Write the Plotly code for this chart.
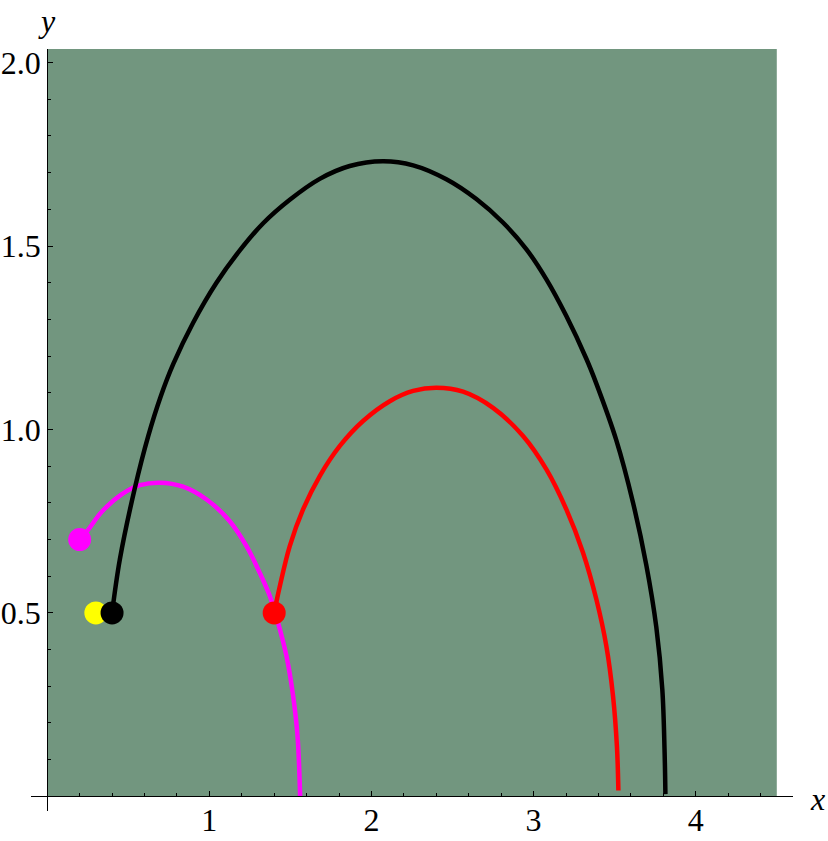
import plotly.graph_objects as go

# ---- data ----
black_x = [0.400, 0.448, 0.541, 0.623, 0.700, 0.777, 0.900, 1.044, 1.188, 1.332, 1.496, 1.681, 1.866,
           2.070, 2.257, 2.462, 2.647, 2.811, 2.956, 3.079, 3.202, 3.326, 3.387, 3.510, 3.613, 3.695,
           3.757, 3.794, 3.808, 3.813]
black_y = [0.500, 0.646, 0.841, 0.982, 1.090, 1.178, 1.291, 1.400, 1.488, 1.562, 1.626, 1.683, 1.718,
           1.731, 1.720, 1.682, 1.628, 1.564, 1.491, 1.409, 1.309, 1.192, 1.125, 0.971, 0.801, 0.631,
           0.461, 0.291, 0.122, 0.006]

red_x = [1.400, 1.435, 1.496, 1.578, 1.681, 1.805, 1.948, 2.113, 2.257, 2.401, 2.565, 2.750, 2.935,
         3.079, 3.202, 3.305, 3.387, 3.449, 3.490, 3.514, 3.523]
red_y = [0.500, 0.573, 0.682, 0.782, 0.873, 0.955, 1.023, 1.077, 1.105, 1.114, 1.103, 1.059, 0.982,
         0.891, 0.782, 0.664, 0.537, 0.409, 0.273, 0.136, 0.016]

magenta_x = [0.200, 0.253, 0.335, 0.459, 0.572, 0.695, 0.838, 0.983, 1.126, 1.229, 1.311, 1.373,
             1.424, 1.476, 1.517, 1.544, 1.560]
magenta_y = [0.700, 0.727, 0.775, 0.823, 0.848, 0.855, 0.844, 0.809, 0.750, 0.682, 0.609, 0.546,
             0.473, 0.382, 0.273, 0.164, 0.0]

start_points = {
    "magenta": (0.2, 0.7),
    "yellow": (0.3, 0.5),
    "black": (0.4, 0.5),
    "red": (1.4, 0.5),
}

x_ticks = [1, 2, 3, 4]
x_tick_text = ["1", "2", "3", "4"]
y_ticks = [0.5, 1.0, 1.5, 2.0]
y_tick_text = ["0.5", "1.0", "1.5", "2.0"]
x_minor = [round(0.2 * i, 2) for i in range(1, 23)]
y_minor = [round(0.1 * i, 2) for i in range(1, 21)]

# ---- style ----
BG = "#72967F"
X_RANGE = [-0.1, 4.6]
Y_RANGE = [-0.04, 2.037]
FONT = "Liberation Serif, Times New Roman, serif"

fig = go.Figure()

for xs, ys, col in [(magenta_x, magenta_y, "#FF00FF"),
                    (red_x, red_y, "#FF0000"),
                    (black_x, black_y, "#000000")]:
    fig.add_trace(go.Scatter(x=xs, y=ys, mode="lines",
                             line=dict(color=col, width=4.5, shape="spline", smoothing=1.0),
                             hoverinfo="skip", showlegend=False))

dot_colors = {"magenta": "#FF00FF", "yellow": "#FFFF00", "black": "#000000", "red": "#FF0000"}
for name in ["magenta", "yellow", "black", "red"]:
    px, py = start_points[name]
    fig.add_trace(go.Scatter(x=[px], y=[py], mode="markers",
                             marker=dict(color=dot_colors[name], size=23, line=dict(width=0)),
                             hoverinfo="skip", showlegend=False))

fig.add_shape(type="rect", x0=0, x1=4.5, y0=0, y1=Y_RANGE[1], xref="x", yref="y",
              fillcolor=BG, line=dict(width=0), layer="below")

xpos = (0 - Y_RANGE[0]) / (Y_RANGE[1] - Y_RANGE[0])
ypos = (0 - X_RANGE[0]) / (X_RANGE[1] - X_RANGE[0])

fig.update_layout(
    width=828, height=841,
    margin=dict(l=31, r=35, t=49, b=30, autoexpand=False),
    paper_bgcolor="white", plot_bgcolor="white",
    hovermode=False,
    xaxis=dict(range=X_RANGE, domain=[0, 1], anchor="free", position=xpos, automargin=False,
               showline=True, linecolor="black", linewidth=1.3,
               showgrid=False, zeroline=False,
               tickmode="array", tickvals=x_ticks, ticktext=x_tick_text,
               ticks="inside", ticklen=5, tickwidth=1, tickcolor="black",
               ticklabelstandoff=-5,
               tickfont=dict(family=FONT, size=32, color="black"),
               minor=dict(tickmode="array", tickvals=x_minor, ticks="inside",
                          ticklen=3, tickwidth=1, tickcolor="black", showgrid=False)),
    yaxis=dict(range=Y_RANGE, domain=[0, 1], anchor="free", position=ypos, automargin=False,
               showline=True, linecolor="black", linewidth=1.3,
               showgrid=False, zeroline=False,
               tickmode="array", tickvals=y_ticks, ticktext=y_tick_text,
               ticks="inside", ticklen=5, tickwidth=1, tickcolor="black",
               ticklabelstandoff=0,
               tickfont=dict(family=FONT, size=32, color="black"),
               minor=dict(tickmode="array", tickvals=y_minor, ticks="inside",
                          ticklen=3, tickwidth=1, tickcolor="black", showgrid=False)),
    annotations=[
        dict(text="<i>x</i>", xref="paper", yref="paper", x=1.0328, y=xpos,
             xanchor="center", yanchor="middle", yshift=-3, showarrow=False,
             font=dict(family=FONT, size=32, color="black")),
        dict(text="<i>y</i>", xref="paper", yref="paper", x=ypos, y=1.0,
             xanchor="center", yanchor="bottom", yshift=8, showarrow=False,
             font=dict(family=FONT, size=32, color="black")),
    ],
)

# remove the default page margin so the figure fills the window exactly
fig.write_html("out.html",
               config={"displayModeBar": False},
               post_script="document.body.style.margin='0px'; document.body.style.overflow='hidden';")
